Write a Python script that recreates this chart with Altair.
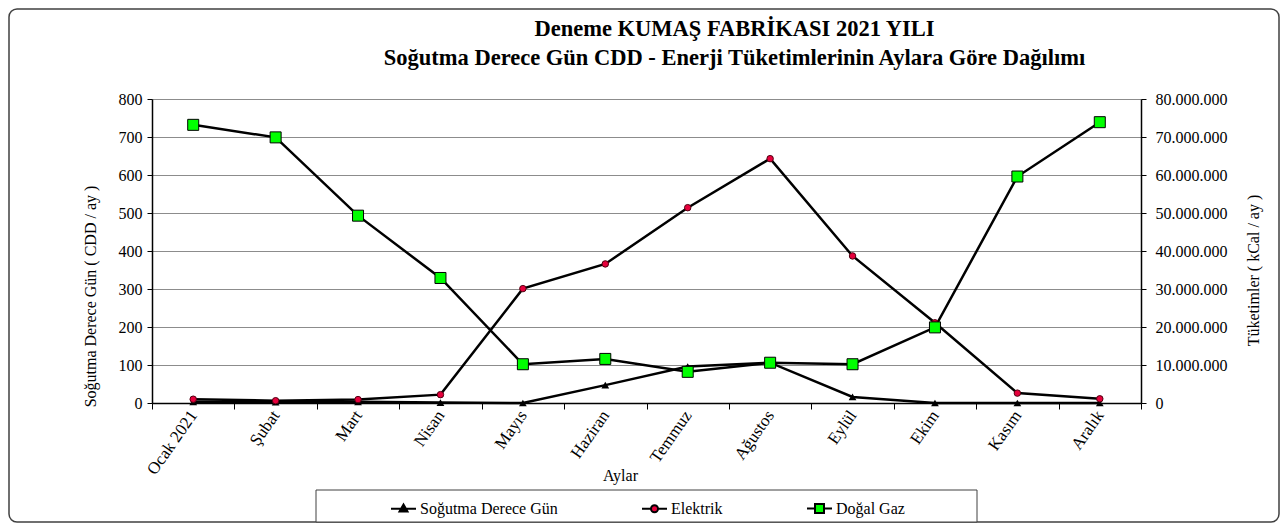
import altair as alt
import pandas as pd

months = ["Ocak 2021", "Şubat", "Mart", "Nisan", "Mayıs", "Haziran",
          "Temmuz", "Ağustos", "Eylül", "Ekim", "Kasım", "Aralık"]
cdd = [3, 2, 3, 1, 0, 47, 96, 106, 16, 0, 0, 0]
elektrik_mn = [1.0, 0.6, 0.9, 2.2, 30.1, 36.6, 51.4, 64.3, 38.7, 21.1, 2.6, 1.1]
gaz_mn = [73.2, 69.9, 49.3, 32.9, 10.2, 11.6, 8.2, 10.6, 10.2, 19.9, 59.6, 73.9]

series = ["Soğutma Derece Gün", "Elektrik", "Doğal Gaz"]
fill_colors = ["#000000", "#e6003c", "#00ff00"]
stroke_colors = ["#000000", "#000000", "#000000"]
legend_shapes = [
    "M-1,0H1M0,-0.34L0.32,0.22H-0.32Z",
    "M-1,0H-0.28M0.28,0H1M0.28,0A0.28,0.28,0,1,1,-0.28,0A0.28,0.28,0,1,1,0.28,0Z",
    "M-1,0H-0.36M0.36,0H1M-0.36,-0.36H0.36V0.36H-0.36Z",
]

title_lines = ["Deneme KUMAŞ FABRİKASI  2021 YILI",
               "Soğutma Derece Gün CDD - Enerji Tüketimlerinin Aylara Göre Dağılımı"]

FONT = "Liberation Serif"

df_cdd = pd.DataFrame({"Ay": months, "CDD": cdd})
df_en = pd.DataFrame({
    "Ay": months * 2,
    "Seri": ["Elektrik"] * 12 + ["Doğal Gaz"] * 12,
    "Deger": [v * 1e6 for v in elektrik_mn] + [v * 1e6 for v in gaz_mn],
})
df_one = pd.DataFrame({"k": [0]})
df_leg = pd.DataFrame({"Seri": series})

x_enc = alt.X(
    "Ay:N", sort=months,
    scale=alt.Scale(type="band", paddingInner=0, paddingOuter=0),
    axis=alt.Axis(
        title="Aylar", titleFont=FONT, titleFontSize=16, titleFontWeight="normal",
        titleColor="black", titleX=468, titleY=72, titleBaseline="middle",
        labelFont=FONT, labelFontSize=17, labelColor="black", labelAngle=-55,
        labelPadding=3, tickBand="extent", tickSize=6, tickColor="black",
        domainColor="black", domainWidth=1.5, grid=False,
    ),
)

y_left = alt.Y(
    "CDD:Q", scale=alt.Scale(domain=[0, 800]),
    axis=alt.Axis(
        orient="left", values=list(range(0, 801, 100)),
        title="Soğutma Derece Gün ( CDD / ay )", titleFont=FONT, titleFontSize=16,
        titleFontWeight="normal", titleColor="black", titleX=-62, titleY=197,
        titleBaseline="middle",
        labelFont=FONT, labelFontSize=16, labelColor="black", labelPadding=5,
        tickSize=5, tickColor="black", domainColor="black", domainWidth=1.5,
        grid=True, gridColor="#8c8c8c", gridWidth=1,
    ),
)

y_right = alt.Y(
    "Deger:Q", scale=alt.Scale(domain=[0, 80000000]),
    axis=alt.Axis(
        orient="right", values=list(range(0, 80000001, 10000000)),
        labelExpr="replace(format(datum.value, ','), regexp(',', 'g'), '.')",
        title="Tüketimler ( kCal / ay )", titleFont=FONT, titleFontSize=16,
        titleFontWeight="normal", titleColor="black", titleAngle=270,
        titleX=112, titleY=171, titleBaseline="middle",
        labelFont=FONT, labelFontSize=16, labelColor="black", labelPadding=9,
        tickSize=5, tickColor="black", domainColor="black", domainWidth=1.5,
        grid=False,
    ),
)

frame = alt.Chart(df_one).mark_rect(
    fill="transparent", stroke="#404040", strokeWidth=1.5, cornerRadius=8
).encode(x=alt.value(-143), x2=alt.value(1127), y=alt.value(-90), y2=alt.value(423))

legend_box = alt.Chart(df_one).mark_rect(
    fill="white", stroke="#404040", strokeWidth=1
).encode(x=alt.value(164), x2=alt.value(825), y=alt.value(391), y2=alt.value(423))

cdd_line = alt.Chart(df_cdd).mark_line(color="black", strokeWidth=2.5).encode(x=x_enc, y=y_left)
cdd_pts = alt.Chart(df_cdd).mark_point(
    shape="triangle-up", filled=True, color="black", size=60, opacity=1
).encode(x=x_enc, y=y_left)
left = alt.layer(frame, legend_box, cdd_line, cdd_pts)

en_line = alt.Chart(df_en).mark_line(color="black", strokeWidth=2.5).encode(
    x=x_enc, y=y_right, detail="Seri:N")
el_pts = alt.Chart(df_en).transform_filter(alt.datum.Seri == "Elektrik").mark_point(
    shape="circle", filled=True, fill="#e6003c", stroke="#500010", strokeWidth=1,
    size=42, opacity=1
).encode(x=x_enc, y=y_right)
gaz_pts = alt.Chart(df_en).transform_filter(alt.datum.Seri == "Doğal Gaz").mark_point(
    shape="square", filled=True, fill="#00ff00", stroke="black", strokeWidth=1,
    size=121, opacity=1
).encode(x=x_enc, y=y_right)

leg = alt.Legend(
    title=None, orient="none", legendX=238, legendY=396, direction="horizontal",
    columns=3, columnPadding=80, labelFont=FONT, labelFontSize=16, labelColor="black",
    labelOffset=3, symbolSize=625, symbolStrokeColor="black", symbolStrokeWidth=2,
    symbolOpacity=1, padding=0,
)
legend_layer = alt.Chart(df_leg).transform_filter("false").mark_point(
    filled=True, strokeWidth=2, opacity=1
).encode(
    fill=alt.Fill("Seri:N", sort=series, scale=alt.Scale(domain=series, range=fill_colors), legend=leg),
    stroke=alt.Stroke("Seri:N", sort=series, scale=alt.Scale(domain=series, range=stroke_colors), legend=leg),
    shape=alt.Shape("Seri:N", sort=series, scale=alt.Scale(domain=series, range=legend_shapes), legend=leg),
)
right = alt.layer(en_line, el_pts, gaz_pts, legend_layer)

chart = alt.layer(left, right).resolve_scale(y="independent").properties(
    width=989, height=304,
    autosize=alt.AutoSizeParams(type="none"),
    padding={"left": 144, "top": 91, "right": 139, "bottom": 120},
    title=alt.TitleParams(
        text=title_lines, font=FONT, fontSize=22.5, fontWeight="bold", color="black",
        anchor="middle", dx=88, offset=-61, lineHeight=29, frame="group",
    ),
).configure_view(strokeWidth=0).configure(
    background="white", font=FONT
).configure_axis(labelFont=FONT, titleFont=FONT).configure_legend(labelFont=FONT)

chart.save("out.html", embed_options={"renderer": "svg", "actions": False})
